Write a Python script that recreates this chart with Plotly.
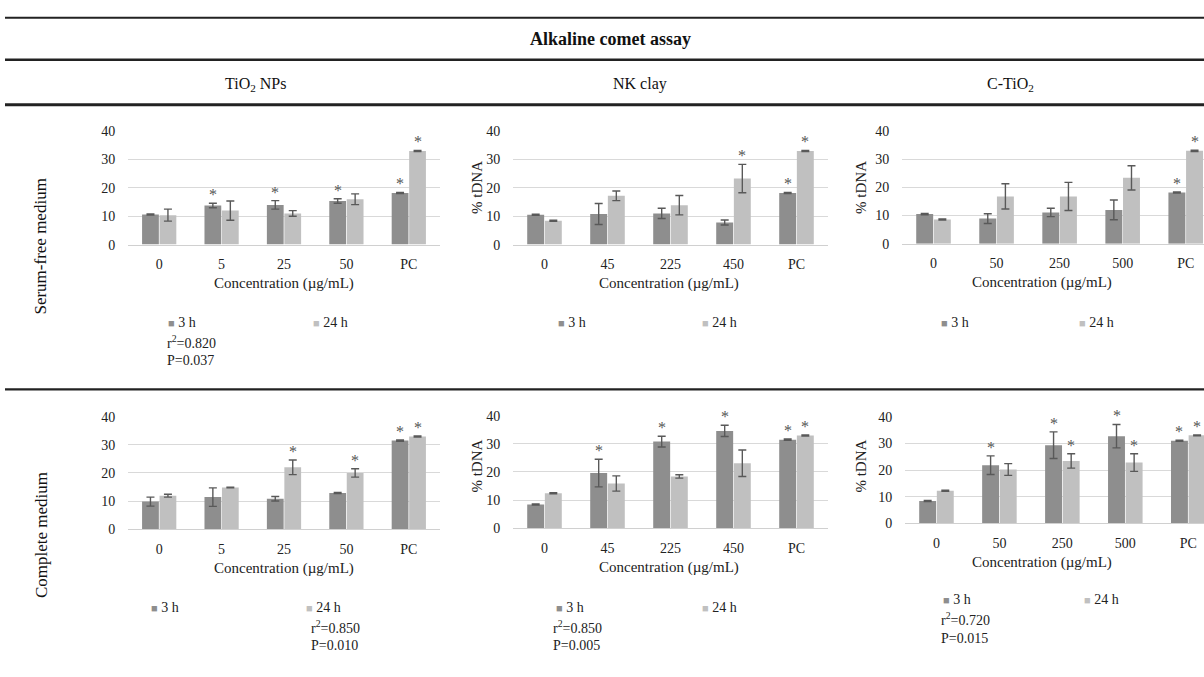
import plotly.graph_objects as go

# ---------------- data ----------------
cats_tio2 = ["0", "5", "25", "50", "PC"]
cats_nk = ["0", "45", "225", "450", "PC"]
cats_ctio2 = ["0", "50", "250", "500", "PC"]

# Serum-free medium
sf_tio2_3h = [10.6, 13.8, 14.0, 15.4, 18.2]
sf_tio2_3h_err = [0.2, 0.8, 1.5, 0.8, 0.2]
sf_tio2_24h = [10.4, 12.0, 11.0, 16.0, 33.0]
sf_tio2_24h_err = [2.1, 3.4, 1.0, 1.9, 0.2]
sf_tio2_3h_sig = [0, 1, 1, 1, 1]
sf_tio2_24h_sig = [0, 0, 0, 0, 1]

sf_nk_3h = [10.5, 10.8, 11.0, 7.8, 18.2]
sf_nk_3h_err = [0.2, 3.7, 1.8, 0.9, 0.2]
sf_nk_24h = [8.4, 17.2, 13.9, 23.3, 33.0]
sf_nk_24h_err = [0.2, 1.7, 3.4, 5.0, 0.2]
sf_nk_3h_sig = [0, 0, 0, 0, 1]
sf_nk_24h_sig = [0, 0, 0, 1, 1]

sf_c_3h = [10.5, 8.9, 11.1, 12.0, 18.2]
sf_c_3h_err = [0.2, 1.75, 1.5, 3.5, 0.2]
sf_c_24h = [8.6, 16.8, 16.8, 23.4, 33.0]
sf_c_24h_err = [0.2, 4.5, 5.0, 4.3, 0.2]
sf_c_3h_sig = [0, 0, 0, 0, 1]
sf_c_24h_sig = [0, 0, 0, 0, 1]

# Complete medium
cm_tio2_3h = [9.8, 11.4, 10.8, 12.9, 31.5]
cm_tio2_3h_err = [1.6, 3.3, 0.8, 0.2, 0.2]
cm_tio2_24h = [11.9, 14.8, 22.0, 20.0, 33.0]
cm_tio2_24h_err = [0.5, 0.1, 2.6, 1.5, 0.2]
cm_tio2_3h_sig = [0, 0, 0, 0, 1]
cm_tio2_24h_sig = [0, 0, 1, 1, 1]

cm_nk_3h = [8.4, 19.6, 30.8, 34.6, 31.5]
cm_nk_3h_err = [0.2, 4.9, 1.9, 2.0, 0.2]
cm_nk_24h = [12.4, 15.9, 18.4, 23.1, 33.0]
cm_nk_24h_err = [0.2, 2.7, 0.6, 4.7, 0.2]
cm_nk_3h_sig = [0, 1, 1, 1, 1]
cm_nk_24h_sig = [0, 0, 0, 0, 1]

cm_c_3h = [8.4, 21.8, 29.3, 32.7, 31.0]
cm_c_3h_err = [0.2, 3.5, 5.0, 4.4, 0.2]
cm_c_24h = [12.2, 20.2, 23.4, 22.8, 33.0]
cm_c_24h_err = [0.2, 2.2, 2.7, 3.3, 0.2]
cm_c_3h_sig = [0, 1, 1, 1, 1]
cm_c_24h_sig = [0, 0, 1, 1, 1]

stats_sf_tio2 = ["r<sup>2</sup>=0.820", "P=0.037"]
stats_cm_tio2 = ["r<sup>2</sup>=0.850", "P=0.010"]
stats_cm_nk = ["r<sup>2</sup>=0.850", "P=0.005"]
stats_cm_c = ["r<sup>2</sup>=0.720", "P=0.015"]

series_names = ["3 h", "24 h"]
y_ticks = [0, 10, 20, 30, 40]

# ---------------- style / layout ----------------
W, H = 1204, 677
C3 = "#8e8e8e"
C24 = "#c0c0c0"
ERR = "#595959"
FONT = "Liberation Serif, Times New Roman, serif"
TXT = "#222222"
BARGAP = 0.44

panels = [
    dict(cats=cats_tio2, a=sf_tio2_3h, ae=sf_tio2_3h_err, b=sf_tio2_24h, be=sf_tio2_24h_err,
         sa=sf_tio2_3h_sig, sb=sf_tio2_24h_sig, x0=128, x1=440, yt=127, yb=243, xe=4.5,
         ytitle=None, ctr=284, leg=(166, 311, 323), stats=stats_sf_tio2, sx=165, sy=(343, 362)),
    dict(cats=cats_nk, a=sf_nk_3h, ae=sf_nk_3h_err, b=sf_nk_24h, be=sf_nk_24h_err,
         sa=sf_nk_3h_sig, sb=sf_nk_24h_sig, x0=513, x1=828, yt=127, yb=243, xe=4.5,
         ytitle=(477, 185), ctr=669, leg=(556, 700, 323), stats=None),
    dict(cats=cats_ctio2, a=sf_c_3h, ae=sf_c_3h_err, b=sf_c_24h, be=sf_c_24h_err,
         sa=sf_c_3h_sig, sb=sf_c_24h_sig, x0=902, x1=1204, yt=127, yb=242, xe=4.29,
         ytitle=(861, 185), ctr=1042, leg=(939, 1077, 323), stats=None),
    dict(cats=cats_tio2, a=cm_tio2_3h, ae=cm_tio2_3h_err, b=cm_tio2_24h, be=cm_tio2_24h_err,
         sa=cm_tio2_3h_sig, sb=cm_tio2_24h_sig, x0=128, x1=440, yt=419, yb=534, xe=4.5,
         ytitle=None, ctr=284, leg=(149, 304, 614), stats=stats_cm_tio2, sx=309, sy=(634, 653)),
    dict(cats=cats_nk, a=cm_nk_3h, ae=cm_nk_3h_err, b=cm_nk_24h, be=cm_nk_24h_err,
         sa=cm_nk_3h_sig, sb=cm_nk_24h_sig, x0=513, x1=828, yt=418, yb=533, xe=4.5,
         ytitle=(477, 470), ctr=669, leg=(554, 700, 614), stats=stats_cm_nk, sx=551, sy=(634, 653)),
    dict(cats=cats_ctio2, a=cm_c_3h, ae=cm_c_3h_err, b=cm_c_24h, be=cm_c_24h_err,
         sa=cm_c_3h_sig, sb=cm_c_24h_sig, x0=905, x1=1204, yt=419, yb=528, xe=4.25,
         ytitle=(861, 470), ctr=1042, leg=(941, 1082, 606), stats=stats_cm_c, sx=939, sy=(626, 646)),
]

fig = go.Figure()
annotations = []
layout = {}


def px_x(v):
    return v / W


def px_y(v):
    return 1 - v / H


def note(x, y, text, size, xanchor="center", yanchor="middle", angle=0, color=TXT):
    return dict(x=px_x(x), y=px_y(y), xref="paper", yref="paper", text=text,
                showarrow=False, xanchor=xanchor, yanchor=yanchor, textangle=angle,
                font=dict(family=FONT, size=size, color=color))


offset = (1 - BARGAP) / 4.0

for i, p in enumerate(panels):
    k = i + 1
    xa = "x" if k == 1 else f"x{k}"
    ya = "y" if k == 1 else f"y{k}"
    xs = list(range(len(p["cats"])))
    for vals, errs, col, name in [(p["a"], p["ae"], C3, series_names[0]),
                                   (p["b"], p["be"], C24, series_names[1])]:
        fig.add_trace(go.Bar(
            x=xs, y=vals, name=name, marker=dict(color=col, line=dict(width=0)),
            error_y=dict(type="data", array=errs, visible=True, color=ERR,
                         thickness=1.4, width=4),
            xaxis=xa, yaxis=ya, showlegend=False))
    # significance stars
    for vals, errs, sig, sgn in [(p["a"], p["ae"], p["sa"], -1), (p["b"], p["be"], p["sb"], 1)]:
        for j, s in enumerate(sig):
            if s:
                annotations.append(dict(
                    x=xs[j] + sgn * offset, y=vals[j] + errs[j], xref=xa, yref=ya,
                    text="*", showarrow=False, xanchor="center", yanchor="bottom", yshift=-2,
                    font=dict(family=FONT, size=16, color="#555555")))
    layout["xaxis" if k == 1 else f"xaxis{k}"] = dict(
        domain=[px_x(p["x0"]), px_x(p["x1"])], anchor=ya, range=[-0.5, p["xe"]],
        tickmode="array", tickvals=xs, ticktext=p["cats"],
        showline=True, linecolor="#d0d0d0", linewidth=1, showgrid=False, zeroline=False,
        ticks="outside", ticklen=7, tickcolor="rgba(0,0,0,0)",
        tickfont=dict(family=FONT, size=14, color=TXT), fixedrange=True)
    layout["yaxis" if k == 1 else f"yaxis{k}"] = dict(
        domain=[px_y(p["yb"]), px_y(p["yt"])], anchor=xa, range=[0, 40],
        tickvals=y_ticks, showgrid=True, gridcolor="#d9d9d9", gridwidth=1,
        zeroline=False, showline=False,
        ticks="outside", ticklen=9, tickcolor="rgba(0,0,0,0)",
        tickfont=dict(family=FONT, size=14, color=TXT), fixedrange=True)
    # x title
    annotations.append(note(p["ctr"], p["yb"] + 40, "Concentration (µg/mL)", 15))
    # y title
    if p["ytitle"]:
        annotations.append(note(p["ytitle"][0], p["ytitle"][1], "% tDNA", 15, angle=-90))
    # legend
    lx3, lx24, ly = p["leg"]
    for lx, col, name in [(lx3, C3, series_names[0]), (lx24, C24, series_names[1])]:
        annotations.append(note(lx, ly, f"<span style='color:{col};font-size:11px'>■</span> {name}",
                                14, xanchor="left"))
    if p["stats"]:
        for t, yy in zip(p["stats"], p["sy"]):
            annotations.append(note(p["sx"], yy, t, 14, xanchor="left"))

# headers
annotations.append(note(610, 33, "<b>Alkaline comet assay</b>", 18, color="#111111"))
for t, cx in [("TiO<sub>2</sub> NPs", 256), ("NK clay", 640), ("C-TiO<sub>2</sub>", 1010)]:
    annotations.append(note(cx, 79, t, 16, color="#111111"))
for t, cy in [("Serum-free medium", 245), ("Complete medium", 540)]:
    annotations.append(note(41, cy, t, 17, angle=-90, color="#111111"))

shapes = []
for yy, w in [(11, 2.2), (54, 2.5), (100, 3), (391, 2.2)]:
    shapes.append(dict(type="line", xref="paper", yref="paper", x0=px_x(5), x1=1,
                       y0=px_y(yy), y1=px_y(yy), line=dict(color="#222222", width=w)))

fig.update_layout(
    width=W, height=H, margin=dict(l=0, r=0, t=0, b=0, pad=0), autosize=False,
    paper_bgcolor="white", plot_bgcolor="white",
    barmode="group", bargap=BARGAP, bargroupgap=0.04,
    annotations=annotations, shapes=shapes, showlegend=False,
    font=dict(family=FONT, color=TXT), **layout)

fig.write_html(
    "out.html",
    config={"displayModeBar": False},
    post_script="document.body.style.margin='0px';document.body.style.overflow='hidden';"
                "document.documentElement.style.overflow='hidden';")
